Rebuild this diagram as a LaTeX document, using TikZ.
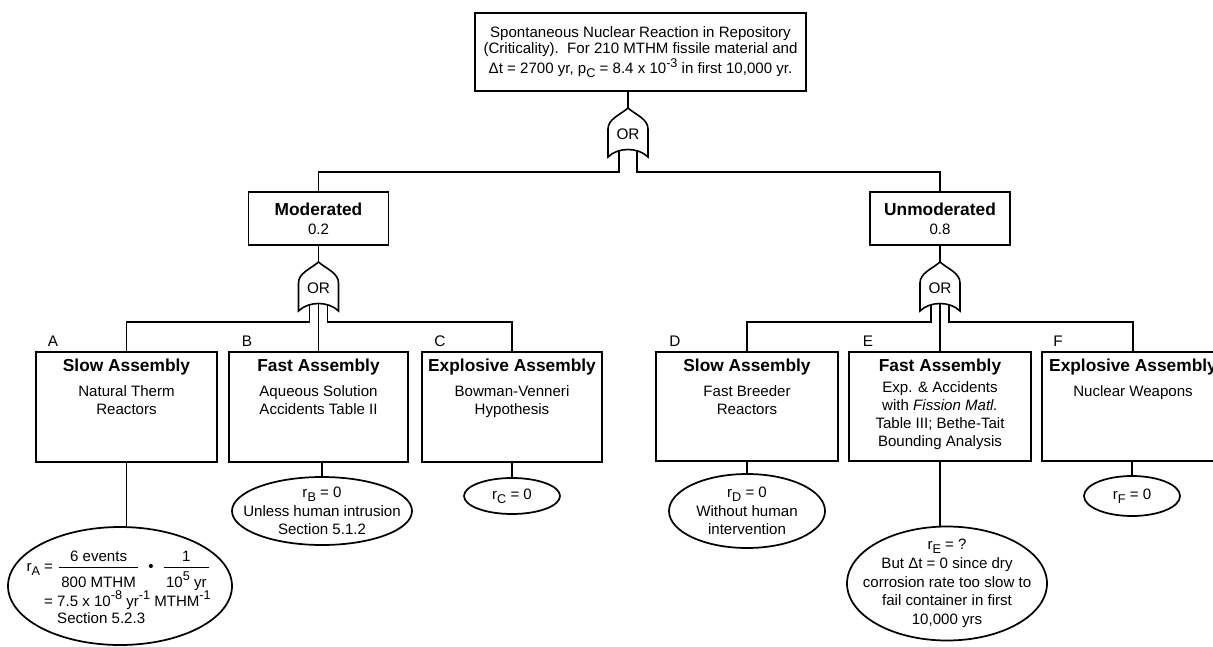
\documentclass[tikz,border=0pt]{standalone}
\usepackage{fontspec}
\setmainfont{Liberation Sans}
\usepackage{amsmath}
\usetikzlibrary{shapes.geometric,calc}
\newdimen\pxu \pxu=0.75pt
\newcommand\hdfont{\fontsize{13}{15}\selectfont\bfseries}
\newcommand\subs[1]{\raisebox{-0.5ex}{\fontsize{9.5}{10}\selectfont #1}}
\newcommand\sups[1]{\raisebox{0.85ex}{\fontsize{9.5}{10}\selectfont #1}}
\newcommand\myfrac[2]{\genfrac{}{}{0.9pt}{0}{\hbox{\,#1\,}}{\hbox{\vrule width 0pt height 12pt\,#2\,}}}
\tikzset{
  ln/.style={line width=1.1pt},
  evbox/.style={draw, line width=1.4pt, rectangle, inner sep=0pt},
  evtext/.style={anchor=north, align=center, inner sep=0pt, font=\fontsize{11.3}{13.5}\selectfont},
  topbox/.style={draw, line width=1.4pt, rectangle, inner sep=0pt, align=center, font=\fontsize{11.3}{12.5}\selectfont},
  res/.style={draw, ellipse, line width=1.3pt, inner sep=0pt},
  restext/.style={align=center, inner sep=0pt, font=\fontsize{11.3}{14}\selectfont},
  gatelbl/.style={inner sep=0pt, font=\fontsize{11.5}{12}\selectfont},
  letter/.style={inner sep=0pt, font=\fontsize{11.5}{12}\selectfont}
}
\newcommand\orgate[2]{%
  \node[gatelbl] (#1) at (#2) {OR};
  \draw[line width=1.2pt, shift={(#1.center)}] (0,-26) .. controls (8,-19) and (20,-15) .. (20,-5) -- (20,23) .. controls (10,13) and (-10,13) .. (-20,23) -- (-20,-5) .. controls (-20,-15) and (-8,-19) .. (0,-26) -- cycle;
  \coordinate (#1-tip) at ($(#1.center)+(0,-26)$);
  \coordinate (#1-l) at ($(#1.center)+(-9,17)$);
  \coordinate (#1-c) at ($(#1.center)+(0,15.5)$);
  \coordinate (#1-r) at ($(#1.center)+(9,17)$);
}
\begin{document}
\begin{tikzpicture}[x=0.75pt,y=-0.75pt]
\useasboundingbox (0,0) rectangle (1213,646);
\clip (0,0) rectangle (1213,646);

% top event
\node[topbox, minimum width=331\pxu, minimum height=78\pxu] (top) at (640.5,52)
  {Spontaneous Nuclear Reaction in Repository\\
   (Criticality).\ \ For 210 MTHM fissile material and\\
   Δt = 2700 yr, p\subs{C} = 8.4 x 10\sups{-3} in first 10,000 yr.};

\orgate{g0}{628,134}
\coordinate (bus0) at (0,172);
\draw[ln] (top.south -| g0-tip) -- (g0-tip);

% second level
\node[topbox, minimum width=140\pxu, minimum height=53\pxu] (mod) at (318.5,218.5)
  {{\hdfont Moderated}\\[2pt] 0.2};
\node[topbox, minimum width=140\pxu, minimum height=53\pxu] (unm) at (940,218.5)
  {{\hdfont Unmoderated}\\[2pt] 0.8};
\draw[ln] (mod.north) |- (g0-l |- bus0) -- (g0-l);
\draw[ln] (unm.north) |- (g0-r |- bus0) -- (g0-r);

\orgate{g1}{318.5,288}
\orgate{g2}{940,288}
\coordinate (bus1) at (0,322);
\draw[ln] (mod.south -| g1-tip) -- (g1-tip);
\draw[ln] (unm.south -| g2-tip) -- (g2-tip);

% basic events
\node[evbox, minimum width=181\pxu, minimum height=110\pxu] (A) at (126.5,407) {};
\node[evbox, minimum width=179\pxu, minimum height=110\pxu] (B) at (318.5,407) {};
\node[evbox, minimum width=180\pxu, minimum height=110\pxu] (C) at (512,407) {};
\node[evbox, minimum width=182\pxu, minimum height=109\pxu] (D) at (747,406.5) {};
\node[evbox, minimum width=182\pxu, minimum height=109\pxu] (E) at (940,406.5) {};
\node[evbox, minimum width=182\pxu, minimum height=109\pxu] (F) at (1133,406.5) {};

\node[evtext] (At) at ([yshift=-6pt]A.north) {{\hdfont Slow Assembly}\\[5pt] Natural Therm\\ Reactors};
\node[evtext] (Bt) at ([yshift=-6pt]B.north) {{\hdfont Fast Assembly}\\[5pt] Aqueous Solution\\ Accidents Table II};
\node[evtext] (Ct) at ([yshift=-6pt]C.north) {{\hdfont Explosive Assembly}\\[5pt] Bowman-Venneri\\ Hypothesis};
\node[evtext] (Dt) at ([yshift=-6pt]D.north) {{\hdfont Slow Assembly}\\[5pt] Fast Breeder\\ Reactors};
\node[evtext] (Et) at ([yshift=-6pt]E.north) {{\hdfont Fast Assembly}\\[2pt] Exp. \& Accidents\\ with \textit{Fission Matl.}\\ Table III; Bethe-Tait\\ Bounding Analysis};
\node[evtext] (Ft) at ([yshift=-6pt]F.north) {{\hdfont Explosive Assembly}\\[5pt] Nuclear Weapons};

\node[letter] (lA) at (53,341) {A};
\node[letter] (lB) at (247,341) {B};
\node[letter] (lC) at (440,341) {C};
\node[letter] (lD) at (675,341) {D};
\node[letter] (lE) at (868,341) {E};
\node[letter] (lF) at (1058,341) {F};

\draw[ln] (A.north) |- (g1-l |- bus1) -- (g1-l);
\draw[ln] (g1-c) -- (B.north);
\draw[ln] (C.north) |- (g1-r |- bus1) -- (g1-r);
\draw[ln] (D.north) |- (g2-l |- bus1) -- (g2-l);
\draw[ln] (g2-c) -- (E.north);
\draw[ln] (F.north) |- (g2-r |- bus1) -- (g2-r);

% results
\node[res, minimum width=224\pxu, minimum height=118\pxu] (rA) at (120,586) {};
\node[res, minimum width=180\pxu, minimum height=68\pxu] (rB) at (322,511) {};
\node[res, minimum width=96\pxu, minimum height=36\pxu] (rC) at (512,496) {};
\node[res, minimum width=156\pxu, minimum height=74\pxu] (rD) at (747,511) {};
\node[res, minimum width=200\pxu, minimum height=114\pxu] (rE) at (947,583.5) {};
\node[res, minimum width=96\pxu, minimum height=40\pxu] (rF) at (1132,496) {};

\node[restext] (rAt) at ([xshift=-1pt,yshift=-3pt]rA.center)
  {\begin{tabular}{@{}r@{\ }l@{}}
   r\subs{A} = & $\myfrac{6 events}{800 MTHM}\ \ \hbox{\textbullet}\ \ \myfrac{1}{10\sups{5} yr}$\\[2pt]
   = & 7.5 x 10\sups{-8} yr\sups{-1} MTHM\sups{-1}\\[-1pt]
     & Section 5.2.3
   \end{tabular}};
\node[restext] (rBt) at (rB) {r\subs{B} = 0\\ Unless human intrusion\\ Section 5.1.2};
\node[restext] (rCt) at (rC) {r\subs{C} = 0};
\node[restext] (rDt) at (rD) {r\subs{D} = 0\\ Without human\\ intervention};
\node[restext] (rEt) at (rE) {r\subs{E} = ?\\ But Δt = 0 since dry\\ corrosion rate too slow to\\ fail container in first\\ 10,000 yrs};
\node[restext] (rFt) at (rF) {r\subs{F} = 0};

\draw[ln] (A.south) -- (A.south |- rA.north);
\draw[ln] (B.south -| rB.north) -- (rB.north);
\draw[ln] (C.south) -- (rC.north);
\draw[ln] (D.south) -- (rD.north);
\draw[ln] (E.south) -- (E.south |- rE.north);
\draw[ln] (F.south -| rF.north) -- (rF.north);
\end{tikzpicture}
\end{document}
